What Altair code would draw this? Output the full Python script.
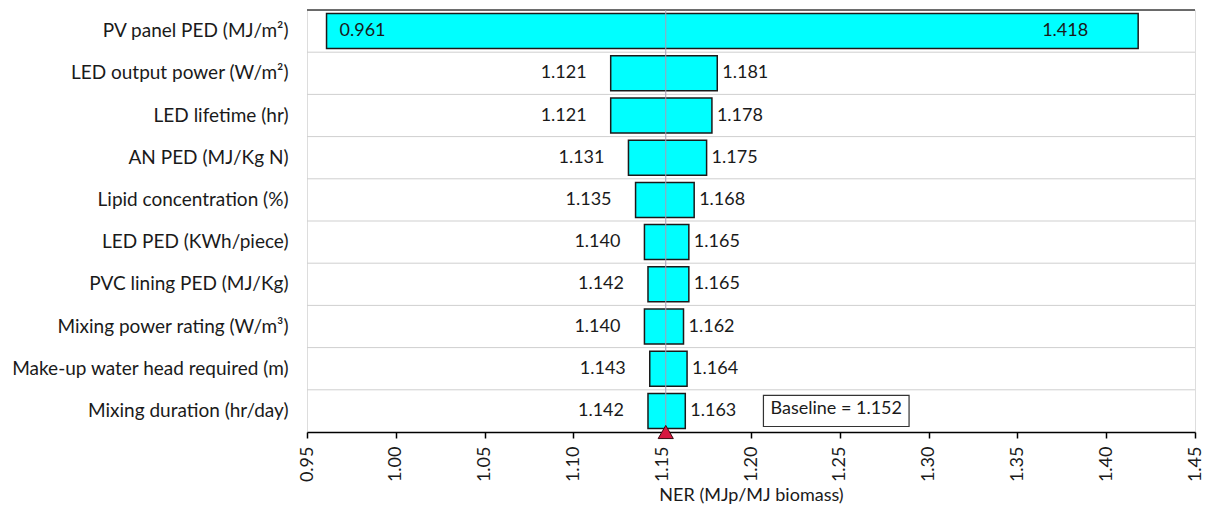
import altair as alt
import pandas as pd

# Sensitivity of NER to each input parameter (low / high case)
factors = [
    "PV panel PED (MJ/m²)",
    "LED output power (W/m²)",
    "LED lifetime (hr)",
    "AN PED (MJ/Kg N)",
    "Lipid concentration (%)",
    "LED PED (KWh/piece)",
    "PVC lining PED (MJ/Kg)",
    "Mixing power rating (W/m³)",
    "Make-up water head required (m)",
    "Mixing duration (hr/day)",
]
low_values = [0.961, 1.121, 1.121, 1.131, 1.135, 1.140, 1.142, 1.140, 1.143, 1.142]
high_values = [1.418, 1.181, 1.178, 1.175, 1.168, 1.165, 1.165, 1.162, 1.164, 1.163]
BASELINE = 1.152
x_ticks = [0.95, 1.00, 1.05, 1.10, 1.15, 1.20, 1.25, 1.30, 1.35, 1.40, 1.45]

df = pd.DataFrame({"factor": factors, "low": low_values, "high": high_values})

FONT = "Lato"
FS = 18
TEXT_COLOR = "#1a1a1a"
W, H = 888, 422

x_scale = alt.Scale(domain=[x_ticks[0], x_ticks[-1]], nice=False, zero=False)
y_scale = alt.Scale(domain=factors, paddingInner=0, paddingOuter=0)

y_axis = alt.Axis(
    ticks=False,
    domain=False,
    grid=False,
    labelFontSize=19,
    labelFont=FONT,
    labelColor=TEXT_COLOR,
    labelPadding=19,
    labelLimit=400,
)

base = alt.Chart(df)

# light row separators
separators = base.mark_rule(color="#cfcfcf", strokeWidth=1).encode(
    y=alt.Y("factor:N", scale=y_scale, bandPosition=0, title=None, axis=y_axis),
    x=alt.datum(x_ticks[0], scale=x_scale),
    x2=alt.datum(x_ticks[-1]),
)

# darker top border
top_border = base.mark_rule(color="#444444", strokeWidth=1.5).encode(
    y=alt.Y("factor:N", scale=y_scale, bandPosition=0, title=None),
    x=alt.datum(x_ticks[0], scale=x_scale),
    x2=alt.datum(x_ticks[-1]),
).transform_filter(alt.datum.factor == factors[0])

bars = base.mark_bar(
    color="#00FFFF", stroke="#1a1a1a", strokeWidth=1.5, height={"band": 0.83}
).encode(
    y=alt.Y("factor:N", scale=y_scale, title=None),
    x=alt.X(
        "low:Q",
        scale=x_scale,
        title="NER (MJp/MJ biomass)",
        axis=alt.Axis(
            values=x_ticks,
            format=".2f",
            labelAngle=270,
            grid=False,
            domainColor="#000000",
            domainWidth=1.5,
            tickColor="#000000",
            tickWidth=1.5,
            tickSize=6,
            labelFontSize=FS,
            labelFont=FONT,
            labelColor=TEXT_COLOR,
            labelPadding=8,
            titleFontSize=FS,
            titleFont=FONT,
            titleColor=TEXT_COLOR,
            titleFontWeight="normal",
            titlePadding=5,
        ),
    ),
    x2="high:Q",
)

narrow = "datum.high - datum.low < 0.2"
wide = "datum.high - datum.low >= 0.2"
text_kw = dict(font=FONT, fontSize=FS, color=TEXT_COLOR, baseline="middle")

low_out = base.mark_text(align="right", dx=-24, **text_kw).encode(
    y=alt.Y("factor:N", scale=y_scale),
    x=alt.X("low:Q", scale=x_scale),
    text=alt.Text("low:Q", format=".3f"),
).transform_filter(narrow)

high_out = base.mark_text(align="left", dx=5, **text_kw).encode(
    y=alt.Y("factor:N", scale=y_scale),
    x=alt.X("high:Q", scale=x_scale),
    text=alt.Text("high:Q", format=".3f"),
).transform_filter(narrow)

low_in = base.mark_text(align="left", dx=13, **text_kw).encode(
    y=alt.Y("factor:N", scale=y_scale),
    x=alt.X("low:Q", scale=x_scale),
    text=alt.Text("low:Q", format=".3f"),
).transform_filter(wide)

high_in = base.mark_text(align="right", dx=-50, **text_kw).encode(
    y=alt.Y("factor:N", scale=y_scale),
    x=alt.X("high:Q", scale=x_scale),
    text=alt.Text("high:Q", format=".3f"),
).transform_filter(wide)

# baseline reference line and marker
base_df = pd.DataFrame({"baseline": [BASELINE]})
base_line = alt.Chart(base_df).mark_rule(color="#a99db5", strokeWidth=1).encode(
    x=alt.X("baseline:Q", scale=x_scale)
)
marker = alt.Chart(base_df).mark_point(
    shape="triangle-up", size=230, filled=True, fill="#d6163f",
    stroke="#3a0a10", strokeWidth=1, opacity=1,
).encode(
    x=alt.X("baseline:Q", scale=x_scale),
    y=alt.value(H),
)

# "Baseline = ..." annotation box in the last row
box = alt.Chart(base_df).mark_bar(
    fill="white", stroke="#333333", strokeWidth=1.2, height={"band": 0.74}
).encode(
    x=alt.datum(1.207, scale=x_scale),
    x2=alt.datum(1.289),
    y=alt.datum(factors[-1], scale=y_scale, type="nominal"),
)
box_text = alt.Chart(base_df).transform_calculate(
    label="'Baseline = ' + format(datum.baseline, '.3f')"
).mark_text(align="center", dy=-2, **text_kw).encode(
    x=alt.datum(1.248, scale=x_scale),
    y=alt.datum(factors[-1], scale=y_scale, type="nominal"),
    text="label:N",
)

chart = (
    alt.layer(
        separators, top_border, bars, low_out, high_out, low_in, high_in,
        base_line, box, box_text, marker,
    )
    .properties(
        width=W,
        height=H,
        autosize="none",
        padding={"left": 307, "top": 10, "right": 16, "bottom": 74},
    )
    .configure_view(stroke="#a0a0a0", strokeWidth=1.2)
    .configure(background="white")
)

chart.save("out.html", embed_options={"renderer": "svg", "actions": False})
